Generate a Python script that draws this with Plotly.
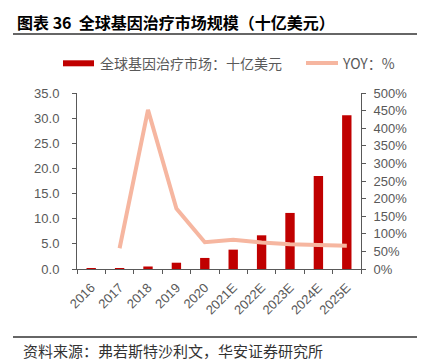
import plotly.graph_objects as go

years = ["2016", "2017", "2018", "2019", "2020", "2021E", "2022E", "2023E", "2024E", "2025E"]
market = [0.01, 0.05, 0.5, 1.25, 2.2, 3.85, 6.7, 11.15, 18.5, 30.6]
yoy_years = ["2017", "2018", "2019", "2020", "2021E", "2022E", "2023E", "2024E", "2025E"]
yoy = [59, 452, 172, 76, 83, 75, 70, 68, 66]

bar_name = "全球基因治疗市场：十亿美元"
line_name = "YOY：%"

font_cn = "Noto Sans CJK SC"
font_num = "Liberation Sans"
grey = "#595959"
bar_color = "#C00000"
line_color = "#F6B6A0"

W, H = 425, 362
OFF = 8  # the page body has a default 8px margin
L, T = 77 - OFF, 93 - OFF
PW, PH = 284, 176
R, B = W - L - PW, H - T - PH


def px(x):
    # x in page pixels
    return (x - OFF - L) / PW


def py(y):
    # y in page pixels
    return (T + PH - (y - OFF)) / PH


fig = go.Figure()
fig.add_trace(go.Bar(x=years, y=market, name=bar_name,
                     marker=dict(color=bar_color, line=dict(width=0)), width=0.33, yaxis="y"))
fig.add_trace(go.Scatter(x=yoy_years, y=yoy, name=line_name, mode="lines",
                         line=dict(color=line_color, width=4), yaxis="y2"))

axis_common = dict(showline=True, linecolor=grey, linewidth=1, ticks="outside", ticklen=4,
                   tickcolor=grey, tickfont=dict(family=font_num, size=13, color=grey),
                   showgrid=False, zeroline=False, automargin=False)

fig.update_layout(
    width=W, height=H,
    margin=dict(l=L, r=R, t=T, b=B, autoexpand=False),
    paper_bgcolor="white", plot_bgcolor="white",
    showlegend=False,
    xaxis=dict(type="category", categoryorder="array", categoryarray=years,
               tickson="boundaries", tickangle=-45, ticklabelstandoff=5, **axis_common),
    yaxis=dict(range=[0, 35], dtick=5, tickformat=".1f", ticklabelstandoff=10, **axis_common),
    yaxis2=dict(range=[0, 500], dtick=50, ticksuffix="%", overlaying="y", side="right",
                ticklabelstandoff=5, **axis_common),
)

# title
fig.add_annotation(text="<b>图表 36  全球基因治疗市场规模（十亿美元）</b>", xref="paper", yref="paper",
                   x=px(15), y=py(22.5), xanchor="left", yanchor="middle", showarrow=False,
                   font=dict(family=font_cn, size=16, color="#000000"))
# source
fig.add_annotation(text="资料来源：弗若斯特沙利文，华安证券研究所", xref="paper", yref="paper",
                   x=px(21), y=py(350), xanchor="left", yanchor="middle", showarrow=False,
                   font=dict(family=font_cn, size=15, color="#333333"))
# separator lines
for yy in (34, 337):
    fig.add_shape(type="line", xref="paper", yref="paper", x0=px(13), x1=px(433),
                  y0=py(yy), y1=py(yy), line=dict(color="#333333", width=1.5))

# manual legend
fig.add_shape(type="rect", xref="paper", yref="paper", x0=px(63), x1=px(94),
              y0=py(66.3), y1=py(60.3), line=dict(width=0), fillcolor=bar_color)
fig.add_annotation(text=bar_name, xref="paper", yref="paper", x=px(98), y=py(63.5),
                   xanchor="left", yanchor="middle", showarrow=False,
                   font=dict(family=font_cn, size=14, color=grey))
fig.add_shape(type="line", xref="paper", yref="paper", x0=px(306), x1=px(338),
              y0=py(63), y1=py(63), line=dict(color=line_color, width=4))
fig.add_annotation(text=line_name, xref="paper", yref="paper", x=px(340), y=py(63.5),
                   xanchor="left", yanchor="middle", showarrow=False,
                   font=dict(family=font_cn, size=14, color=grey))

fig.write_html("out.html")
